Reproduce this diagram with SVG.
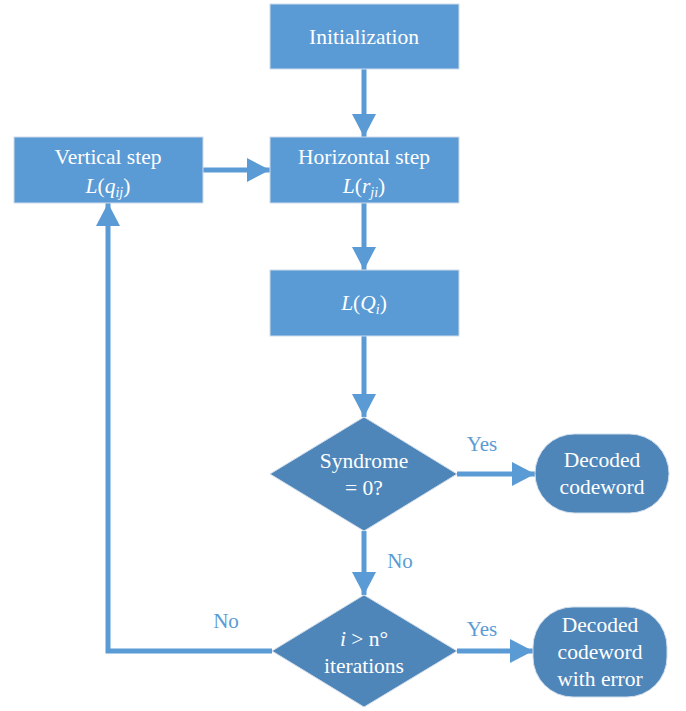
<svg xmlns="http://www.w3.org/2000/svg" width="686" height="711" viewBox="0 0 686 711">
<style>
.box{fill:#5b9bd5;stroke:#d0dcea;stroke-width:1}
.dec{fill:#4e86b9;stroke:#d0dcea;stroke-width:1}
.t{font-family:'Liberation Serif','Times New Roman',Tinos,'DejaVu Serif',serif;font-size:21.5px;fill:#ffffff;text-anchor:middle}
.lbl{font-family:'Liberation Serif','Times New Roman',Tinos,'DejaVu Serif',serif;font-size:21px;fill:#5b9bd5;text-anchor:middle}
.c{stroke:#5b9bd5;stroke-width:5;fill:none}
.i{font-style:italic}
.sub{font-size:14px;font-style:italic}
</style>
<defs>
<marker id="ah" markerUnits="userSpaceOnUse" markerWidth="23" markerHeight="24" refX="23" refY="12" orient="auto">
<path d="M0,0 L23,12 L0,24 Z" fill="#5b9bd5"/>
</marker>
</defs>
<g id="connectors">
<line class="c" x1="364" y1="69" x2="364" y2="137" marker-end="url(#ah)"/>
<line class="c" x1="203" y1="170" x2="270" y2="170" marker-end="url(#ah)"/>
<line class="c" x1="364" y1="203" x2="364" y2="270" marker-end="url(#ah)"/>
<line class="c" x1="364" y1="336" x2="364" y2="417" marker-end="url(#ah)"/>
<line class="c" x1="457" y1="474" x2="535" y2="474" marker-end="url(#ah)"/>
<line class="c" x1="364" y1="531" x2="364" y2="595" marker-end="url(#ah)"/>
<line class="c" x1="457" y1="651" x2="533" y2="651" marker-end="url(#ah)"/>
<polyline class="c" points="272,651 108,651 108,203" marker-end="url(#ah)"/>
<text class="lbl" x="482" y="451">Yes</text>
<text class="lbl" x="400" y="568">No</text>
<text class="lbl" x="482" y="636">Yes</text>
<text class="lbl" x="226" y="628">No</text>
</g>
<g id="init">
<rect class="box" x="270" y="4" width="189" height="65"/>
<text class="t" x="364" y="44">Initialization</text>
</g>
<g id="vertical">
<rect class="box" x="14" y="137" width="189" height="66"/>
<text class="t" x="108" y="164">Vertical step</text>
<text class="t" x="108" y="193"><tspan class="i">L</tspan>(<tspan class="i">q</tspan><tspan class="sub" dy="4">ij</tspan><tspan dy="-4">)</tspan></text>
</g>
<g id="horizontal">
<rect class="box" x="270" y="137" width="189" height="66"/>
<text class="t" x="364" y="164">Horizontal step</text>
<text class="t" x="364" y="193"><tspan class="i">L</tspan>(<tspan class="i">r</tspan><tspan class="sub" dy="4">ji</tspan><tspan dy="-4">)</tspan></text>
</g>
<g id="lq">
<rect class="box" x="270" y="270" width="189" height="66"/>
<text class="t" x="364" y="310"><tspan class="i">L</tspan>(<tspan class="i">Q</tspan><tspan class="sub" dy="4">i</tspan><tspan dy="-4">)</tspan></text>
</g>
<g id="syndrome">
<polygon class="dec" points="364,417 457,474 364,531 270,474"/>
<text class="t" x="364" y="468">Syndrome</text>
<text class="t" x="364" y="495">= 0?</text>
</g>
<g id="decoded">
<rect class="dec" x="535" y="434" width="134" height="79" rx="39.5" ry="39.5"/>
<text class="t" x="602" y="467">Decoded</text>
<text class="t" x="602" y="494">codeword</text>
</g>
<g id="iter">
<polygon class="dec" points="364,595 457,651 364,707 272,651"/>
<text class="t" x="364" y="646"><tspan class="i">i</tspan> &gt; n°</text>
<text class="t" x="364" y="673">iterations</text>
</g>
<g id="decodederr">
<rect class="dec" x="533" y="607" width="134" height="90" rx="40" ry="40"/>
<text class="t" x="600" y="632">Decoded</text>
<text class="t" x="600" y="659">codeword</text>
<text class="t" x="600" y="686">with error</text>
</g>
</svg>
